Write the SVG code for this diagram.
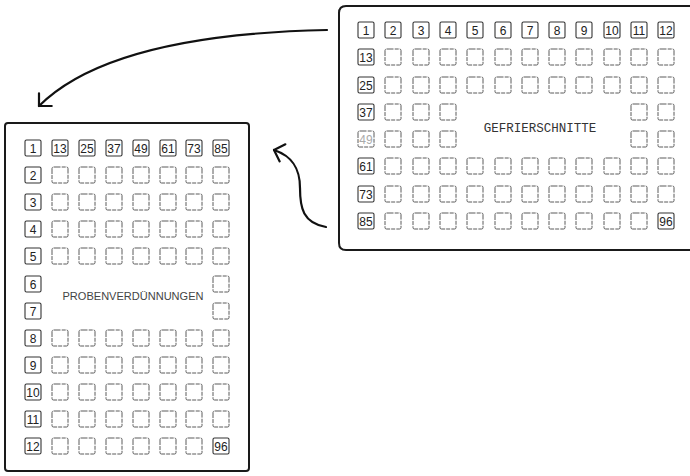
<svg xmlns="http://www.w3.org/2000/svg" xmlns:xlink="http://www.w3.org/1999/xlink" width="690" height="476" viewBox="0 0 690 476">
<style>
.plate{fill:none;stroke:#1a1a1a;stroke-width:2}
.bx{fill:none;stroke:#5a5a5a;stroke-width:1;stroke-dasharray:7 1.2 4 1}
.lb{fill:none;stroke:#333;stroke-width:1.1}
.n{font-family:"Liberation Sans",Arial,sans-serif;font-size:12px;fill:#222;text-anchor:middle}
.faint{fill:#aaa}
.title{font-family:"Liberation Mono","Courier New",monospace;font-size:12.5px;fill:#333;text-anchor:middle}
.title2{font-family:"Liberation Sans",Arial,sans-serif;font-size:11px;fill:#444;text-anchor:middle}
.arr{fill:none;stroke:#111;stroke-width:2.2;stroke-linecap:round}
</style>
<defs>
<rect id="b" width="16" height="16" rx="1.5" class="bx"/>
<rect id="l" width="16" height="16" rx="1.5" class="lb"/>
<marker id="ah" markerUnits="userSpaceOnUse" markerWidth="24" markerHeight="24" refX="0" refY="0" viewBox="-12 -12 24 24" orient="auto" overflow="visible">
<path d="M-9 -9 L0 0 L-9 9" fill="none" stroke="#111" stroke-width="2.2" stroke-linecap="round" stroke-linejoin="round"/>
</marker>
</defs>
<rect width="690" height="476" fill="#fff"/>

<g id="gefrierschnitte">
<path class="plate" d="M690 6 H346 Q339 6 339 13 V243 Q339 250 346 250 H690"/>
<g transform="translate(0,22)">
<use href="#l" x="358"/><use href="#l" x="385"/><use href="#l" x="413"/><use href="#l" x="440"/><use href="#l" x="467"/><use href="#l" x="495"/><use href="#l" x="522"/><use href="#l" x="549"/><use href="#l" x="576"/><use href="#l" x="604"/><use href="#l" x="631"/><use href="#l" x="658"/>
<text class="n" x="366" y="12.5">1</text><text class="n" x="393" y="12.5">2</text><text class="n" x="421" y="12.5">3</text><text class="n" x="448" y="12.5">4</text><text class="n" x="475" y="12.5">5</text><text class="n" x="503" y="12.5">6</text><text class="n" x="530" y="12.5">7</text><text class="n" x="557" y="12.5">8</text><text class="n" x="584" y="12.5">9</text><text class="n" x="612" y="12.5">10</text><text class="n" x="639" y="12.5">11</text><text class="n" x="666" y="12.5">12</text>
</g>
<g transform="translate(0,49)">
<use href="#l" x="358"/><text class="n" x="366" y="12.5">13</text>
<use href="#b" x="385"/><use href="#b" x="413"/><use href="#b" x="440"/><use href="#b" x="467"/><use href="#b" x="495"/><use href="#b" x="522"/><use href="#b" x="549"/><use href="#b" x="576"/><use href="#b" x="604"/><use href="#b" x="631"/><use href="#b" x="658"/>
</g>
<g transform="translate(0,77)">
<use href="#l" x="358"/><text class="n" x="366" y="12.5">25</text>
<use href="#b" x="385"/><use href="#b" x="413"/><use href="#b" x="440"/><use href="#b" x="467"/><use href="#b" x="495"/><use href="#b" x="522"/><use href="#b" x="549"/><use href="#b" x="576"/><use href="#b" x="604"/><use href="#b" x="631"/><use href="#b" x="658"/>
</g>
<g transform="translate(0,104)">
<use href="#l" x="358"/><text class="n" x="366" y="12.5">37</text>
<use href="#b" x="385"/><use href="#b" x="413"/><use href="#b" x="440"/><use href="#b" x="631"/><use href="#b" x="658"/>
</g>
<g transform="translate(0,131)">
<use href="#b" x="358"/><text class="n faint" x="366" y="12.5">49</text>
<use href="#b" x="385"/><use href="#b" x="413"/><use href="#b" x="440"/><use href="#b" x="631"/><use href="#b" x="658"/>
</g>
<g transform="translate(0,158)">
<use href="#l" x="358"/><text class="n" x="366" y="12.5">61</text>
<use href="#b" x="385"/><use href="#b" x="413"/><use href="#b" x="440"/><use href="#b" x="467"/><use href="#b" x="495"/><use href="#b" x="522"/><use href="#b" x="549"/><use href="#b" x="576"/><use href="#b" x="604"/><use href="#b" x="631"/><use href="#b" x="658"/>
</g>
<g transform="translate(0,186)">
<use href="#l" x="358"/><text class="n" x="366" y="12.5">73</text>
<use href="#b" x="385"/><use href="#b" x="413"/><use href="#b" x="440"/><use href="#b" x="467"/><use href="#b" x="495"/><use href="#b" x="522"/><use href="#b" x="549"/><use href="#b" x="576"/><use href="#b" x="604"/><use href="#b" x="631"/><use href="#b" x="658"/>
</g>
<g transform="translate(0,213)">
<use href="#l" x="358"/><text class="n" x="366" y="12.5">85</text>
<use href="#b" x="385"/><use href="#b" x="413"/><use href="#b" x="440"/><use href="#b" x="467"/><use href="#b" x="495"/><use href="#b" x="522"/><use href="#b" x="549"/><use href="#b" x="576"/><use href="#b" x="604"/><use href="#b" x="631"/>
<use href="#l" x="658"/><text class="n" x="666" y="12.5">96</text>
</g>
<text class="title" x="540" y="132">GEFRIERSCHNITTE</text>
</g>

<g id="probenverduennungen">
<rect class="plate" x="5" y="123" width="244" height="348" rx="3"/>
<g transform="translate(0,140)">
<use href="#l" x="25"/><use href="#l" x="52"/><use href="#l" x="79"/><use href="#l" x="106"/><use href="#l" x="133"/><use href="#l" x="160"/><use href="#l" x="186"/><use href="#l" x="213"/>
<text class="n" x="33" y="12.5">1</text><text class="n" x="60" y="12.5">13</text><text class="n" x="87" y="12.5">25</text><text class="n" x="114" y="12.5">37</text><text class="n" x="141" y="12.5">49</text><text class="n" x="168" y="12.5">61</text><text class="n" x="194" y="12.5">73</text><text class="n" x="221" y="12.5">85</text>
</g>
<g transform="translate(0,167)">
<use href="#l" x="25"/><text class="n" x="33" y="12.5">2</text>
<use href="#b" x="52"/><use href="#b" x="79"/><use href="#b" x="106"/><use href="#b" x="133"/><use href="#b" x="160"/><use href="#b" x="186"/><use href="#b" x="213"/>
</g>
<g transform="translate(0,194)">
<use href="#l" x="25"/><text class="n" x="33" y="12.5">3</text>
<use href="#b" x="52"/><use href="#b" x="79"/><use href="#b" x="106"/><use href="#b" x="133"/><use href="#b" x="160"/><use href="#b" x="186"/><use href="#b" x="213"/>
</g>
<g transform="translate(0,221)">
<use href="#l" x="25"/><text class="n" x="33" y="12.5">4</text>
<use href="#b" x="52"/><use href="#b" x="79"/><use href="#b" x="106"/><use href="#b" x="133"/><use href="#b" x="160"/><use href="#b" x="186"/><use href="#b" x="213"/>
</g>
<g transform="translate(0,248)">
<use href="#l" x="25"/><text class="n" x="33" y="12.5">5</text>
<use href="#b" x="52"/><use href="#b" x="79"/><use href="#b" x="106"/><use href="#b" x="133"/><use href="#b" x="160"/><use href="#b" x="186"/><use href="#b" x="213"/>
</g>
<g transform="translate(0,276)">
<use href="#l" x="25"/><text class="n" x="33" y="12.5">6</text>
<use href="#b" x="213"/>
</g>
<g transform="translate(0,303)">
<use href="#l" x="25"/><text class="n" x="33" y="12.5">7</text>
<use href="#b" x="213"/>
</g>
<g transform="translate(0,330)">
<use href="#l" x="25"/><text class="n" x="33" y="12.5">8</text>
<use href="#b" x="52"/><use href="#b" x="79"/><use href="#b" x="106"/><use href="#b" x="133"/><use href="#b" x="160"/><use href="#b" x="186"/><use href="#b" x="213"/>
</g>
<g transform="translate(0,357)">
<use href="#l" x="25"/><text class="n" x="33" y="12.5">9</text>
<use href="#b" x="52"/><use href="#b" x="79"/><use href="#b" x="106"/><use href="#b" x="133"/><use href="#b" x="160"/><use href="#b" x="186"/><use href="#b" x="213"/>
</g>
<g transform="translate(0,384)">
<use href="#l" x="25"/><text class="n" x="33" y="12.5">10</text>
<use href="#b" x="52"/><use href="#b" x="79"/><use href="#b" x="106"/><use href="#b" x="133"/><use href="#b" x="160"/><use href="#b" x="186"/><use href="#b" x="213"/>
</g>
<g transform="translate(0,411)">
<use href="#l" x="25"/><text class="n" x="33" y="12.5">11</text>
<use href="#b" x="52"/><use href="#b" x="79"/><use href="#b" x="106"/><use href="#b" x="133"/><use href="#b" x="160"/><use href="#b" x="186"/><use href="#b" x="213"/>
</g>
<g transform="translate(0,438)">
<use href="#l" x="25"/><text class="n" x="33" y="12.5">12</text>
<use href="#b" x="52"/><use href="#b" x="79"/><use href="#b" x="106"/><use href="#b" x="133"/><use href="#b" x="160"/><use href="#b" x="186"/>
<use href="#l" x="213"/><text class="n" x="221" y="12.5">96</text>
</g>
<text class="title2" x="133" y="300" textLength="141" lengthAdjust="spacingAndGlyphs">PROBENVERDÜNNUNGEN</text>
</g>

<g id="connectors">
<path class="arr" d="M327 30 C230 32 100 45 39 106" marker-end="url(#ah)"/>
<path class="arr" d="M326 227 C303 223 300 208 300 188 C300 168 292 156 274 150" marker-end="url(#ah)"/>
</g>
</svg>
